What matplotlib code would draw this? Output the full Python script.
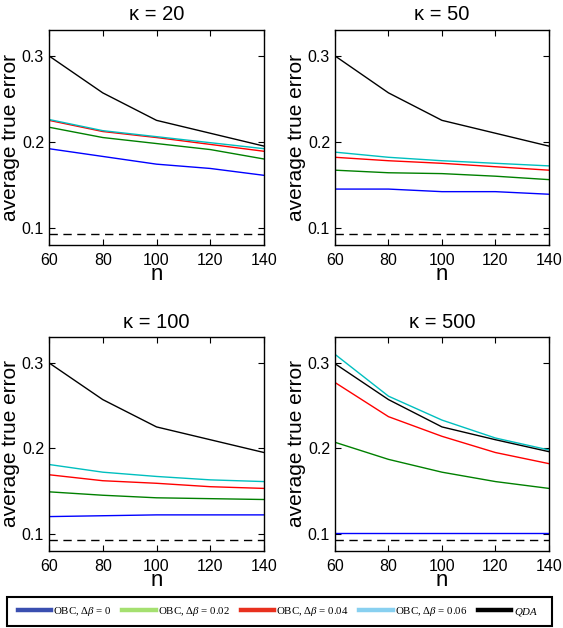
import matplotlib
matplotlib.use("Agg")
import matplotlib.pyplot as plt
from matplotlib.lines import Line2D
from matplotlib.patches import Rectangle

plt.rcParams["font.family"] = ["Liberation Sans", "DejaVu Sans"]
plt.rcParams["mathtext.fontset"] = "custom"
plt.rcParams["mathtext.rm"] = "Liberation Serif"
plt.rcParams["mathtext.it"] = "Liberation Serif:italic"

# Данные
n = [60, 80, 100, 120, 140]
kappas = [20, 50, 100, 500]
bayes_error = 0.093

qda = {
    20: [0.300, 0.257, 0.225, 0.210, 0.195],
    50: [0.300, 0.257, 0.225, 0.210, 0.195],
    100: [0.300, 0.257, 0.225, 0.210, 0.195],
    500: [0.299, 0.257, 0.225, 0.210, 0.196],
}
obc_0 = {
    20: [0.192, 0.183, 0.174, 0.169, 0.161],
    50: [0.145, 0.145, 0.142, 0.142, 0.139],
    100: [0.120, 0.121, 0.122, 0.122, 0.122],
    500: [0.101, 0.101, 0.101, 0.101, 0.101],
}
obc_002 = {
    20: [0.217, 0.205, 0.198, 0.191, 0.180],
    50: [0.167, 0.164, 0.163, 0.160, 0.156],
    100: [0.149, 0.145, 0.142, 0.141, 0.140],
    500: [0.207, 0.187, 0.172, 0.161, 0.153],
}
obc_004 = {
    20: [0.225, 0.212, 0.205, 0.197, 0.189],
    50: [0.182, 0.178, 0.175, 0.171, 0.167],
    100: [0.169, 0.162, 0.159, 0.155, 0.153],
    500: [0.277, 0.237, 0.214, 0.195, 0.182],
}
obc_006 = {
    20: [0.226, 0.213, 0.206, 0.199, 0.192],
    50: [0.188, 0.182, 0.178, 0.175, 0.172],
    100: [0.181, 0.172, 0.167, 0.163, 0.161],
    500: [0.310, 0.261, 0.233, 0.212, 0.198],
}

legend_labels = [
    r"OBC, $\Delta\mathit{\beta}$ = 0",
    r"OBC, $\Delta\mathit{\beta}$ = 0.02",
    r"OBC, $\Delta\mathit{\beta}$ = 0.04",
    r"OBC, $\Delta\mathit{\beta}$ = 0.06",
    r"$\mathit{QDA}$",
]
line_colors = ["#0000ff", "#008000", "#ff0000", "#00bfbf", "black"]
legend_colors = ["#3a4fb0", "#a5e070", "#e8301e", "#88d0f0", "black"]

fig = plt.figure(figsize=(5.63, 6.28), dpi=100)

positions = [
    [0.087, 0.610, 0.382, 0.342],
    [0.595, 0.610, 0.380, 0.342],
    [0.087, 0.123, 0.382, 0.340],
    [0.595, 0.123, 0.380, 0.340],
]

for k, pos in zip(kappas, positions):
    ax = fig.add_axes(pos)
    series = [obc_0[k], obc_002[k], obc_004[k], obc_006[k], qda[k]]
    for vals, c in zip(series, line_colors):
        ax.plot(n, vals, color=c, lw=1.0)
    ax.axhline(bayes_error, color="black", lw=1.0, linestyle=(0, (6, 4)))
    ax.set_xlim(60, 140)
    ax.set_ylim(0.08, 0.33)
    ax.set_xticks([60, 80, 100, 120, 140])
    ax.set_yticks([0.1, 0.2, 0.3])
    ax.tick_params(direction="in", top=True, right=True, labelsize=11.5,
                   length=4, width=0.8)
    ax.tick_params(axis="x", pad=6)
    ax.set_title("\u03ba = %d" % k, fontsize=14.5, pad=7)
    ax.set_xlabel("n", fontsize=16, labelpad=-3)
    ax.set_ylabel("average true error", fontsize=15, labelpad=1)
    for s in ax.spines.values():
        s.set_linewidth(1.0)

# рамка легенды
fig.patches.append(Rectangle((7 / 563, 1 - 626 / 628), 545 / 563, 29 / 628,
                             transform=fig.transFigure, fill=True,
                             facecolor="white", edgecolor="black", lw=1.5,
                             zorder=5))

handles = [Line2D([0], [0], color=c, lw=3.2) for c in legend_colors]
leg = fig.legend(handles, legend_labels, loc="center left",
                 bbox_to_anchor=(9 / 563, 1 - 611.5 / 628),
                 ncol=5, handlelength=3.1, handletextpad=0.2,
                 columnspacing=0.95, frameon=False, borderpad=0.3,
                 prop={"family": "Liberation Serif", "size": 7.8})
leg.set_zorder(6)

fig.savefig("out.png", dpi=100)
